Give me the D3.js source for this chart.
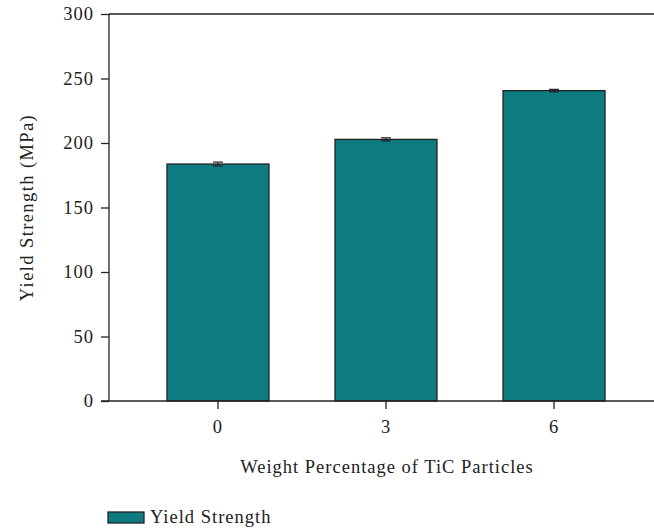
<!DOCTYPE html>
<html>
<head>
<meta charset="utf-8">
<script src="https://cdn.jsdelivr.net/npm/d3@7"></script>
<style>
  body { margin: 0; background: #fff; }
</style>
</head>
<body>
<div id="chart"></div>
<script>
const categories = ['0', '3', '6'];
const yieldStrength = [183.7, 202.8, 240.6];
const errors = [1.5, 1.2, 1.0];
const yTicks = [0, 50, 100, 150, 200, 250, 300];

const width = 654, height = 529;
const margin = {top: 14, left: 109, bottom: 401};
const plotRight = 663;
const font = "'Liberation Serif', 'Times New Roman', serif";
const fontSize = 18.5, spacing = 1;
const ink = '#222';

const svg = d3.select('#chart').append('svg')
    .attr('width', width).attr('height', height)
    .attr('font-family', font);

const scaleX = d3.scaleBand(categories, [margin.left, plotRight])
    .paddingInner(0.393).paddingOuter(0.345);
const scaleY = d3.scaleLinear([0, 300], [margin.bottom, margin.top]);

// top frame line
svg.append('line')
    .attr('x1', margin.left).attr('x2', plotRight)
    .attr('y1', scaleY(300)).attr('y2', scaleY(300))
    .attr('stroke', ink).attr('stroke-width', 1.3);

// bars
svg.selectAll('rect.bar')
    .data(categories)
    .join('rect')
    .classed('bar', true)
    .attr('x', d => scaleX(d))
    .attr('y', (d, i) => scaleY(yieldStrength[i]))
    .attr('width', scaleX.bandwidth())
    .attr('height', (d, i) => scaleY(0) - scaleY(yieldStrength[i]))
    .attr('fill', '#0e7b80')
    .attr('stroke', ink).attr('stroke-width', 1.3);

// error bars
const err = svg.selectAll('g.err').data(categories).join('g').classed('err', true);
err.append('line')
    .attr('x1', d => scaleX(d) + scaleX.bandwidth() / 2)
    .attr('x2', d => scaleX(d) + scaleX.bandwidth() / 2)
    .attr('y1', (d, i) => scaleY(yieldStrength[i] + errors[i]))
    .attr('y2', (d, i) => scaleY(yieldStrength[i] - errors[i]))
    .attr('stroke', ink).attr('stroke-width', 1);
err.selectAll('line.cap')
    .data((d, i) => [[d, yieldStrength[i] + errors[i]], [d, yieldStrength[i] - errors[i]]])
    .join('line').classed('cap', true)
    .attr('x1', d => scaleX(d[0]) + scaleX.bandwidth() / 2 - 5)
    .attr('x2', d => scaleX(d[0]) + scaleX.bandwidth() / 2 + 5)
    .attr('y1', d => scaleY(d[1])).attr('y2', d => scaleY(d[1]))
    .attr('stroke', ink).attr('stroke-width', 1.2);

// axes
const axisY = svg.append('g')
    .attr('transform', `translate(${margin.left},0)`)
    .call(d3.axisLeft(scaleY).tickValues(yTicks).tickSize(8).tickPadding(7).tickSizeOuter(0));
const axisX = svg.append('g')
    .attr('transform', `translate(0,${margin.bottom})`)
    .call(d3.axisBottom(scaleX).tickSize(8).tickPadding(11).tickSizeOuter(0));

[axisY, axisX].forEach(a => {
    a.attr('font-family', font).attr('font-size', fontSize);
    a.select('.domain').attr('stroke', ink).attr('stroke-width', 1.3);
    a.selectAll('.tick line').attr('stroke', ink).attr('stroke-width', 1.3);
    a.selectAll('.tick text').attr('fill', ink).attr('letter-spacing', spacing);
});
axisY.select('.domain').attr('d', `M0,${margin.bottom}V${margin.top}`);
// extend baseline to the left tick
axisX.select('.domain').attr('d', `M${margin.left - 8},0H${plotRight}`);

// axis titles
svg.append('text')
    .attr('transform', `translate(33,${(margin.top + margin.bottom) / 2})rotate(-90)`)
    .attr('text-anchor', 'middle').attr('font-size', fontSize).attr('fill', ink)
    .attr('letter-spacing', 1.4)
    .text('Yield Strength (MPa)');
svg.append('text')
    .attr('x', 387).attr('y', 473)
    .attr('text-anchor', 'middle').attr('font-size', fontSize).attr('fill', ink)
    .attr('letter-spacing', spacing)
    .text('Weight Percentage of TiC Particles');

// legend
svg.append('rect')
    .attr('x', 108).attr('y', 512).attr('width', 36).attr('height', 11)
    .attr('fill', '#0e7b80').attr('stroke', ink).attr('stroke-width', 1.3);
svg.append('text')
    .attr('x', 150).attr('y', 523).attr('font-size', fontSize).attr('fill', ink)
    .attr('letter-spacing', spacing)
    .text('Yield Strength');
</script>
</body>
</html>
